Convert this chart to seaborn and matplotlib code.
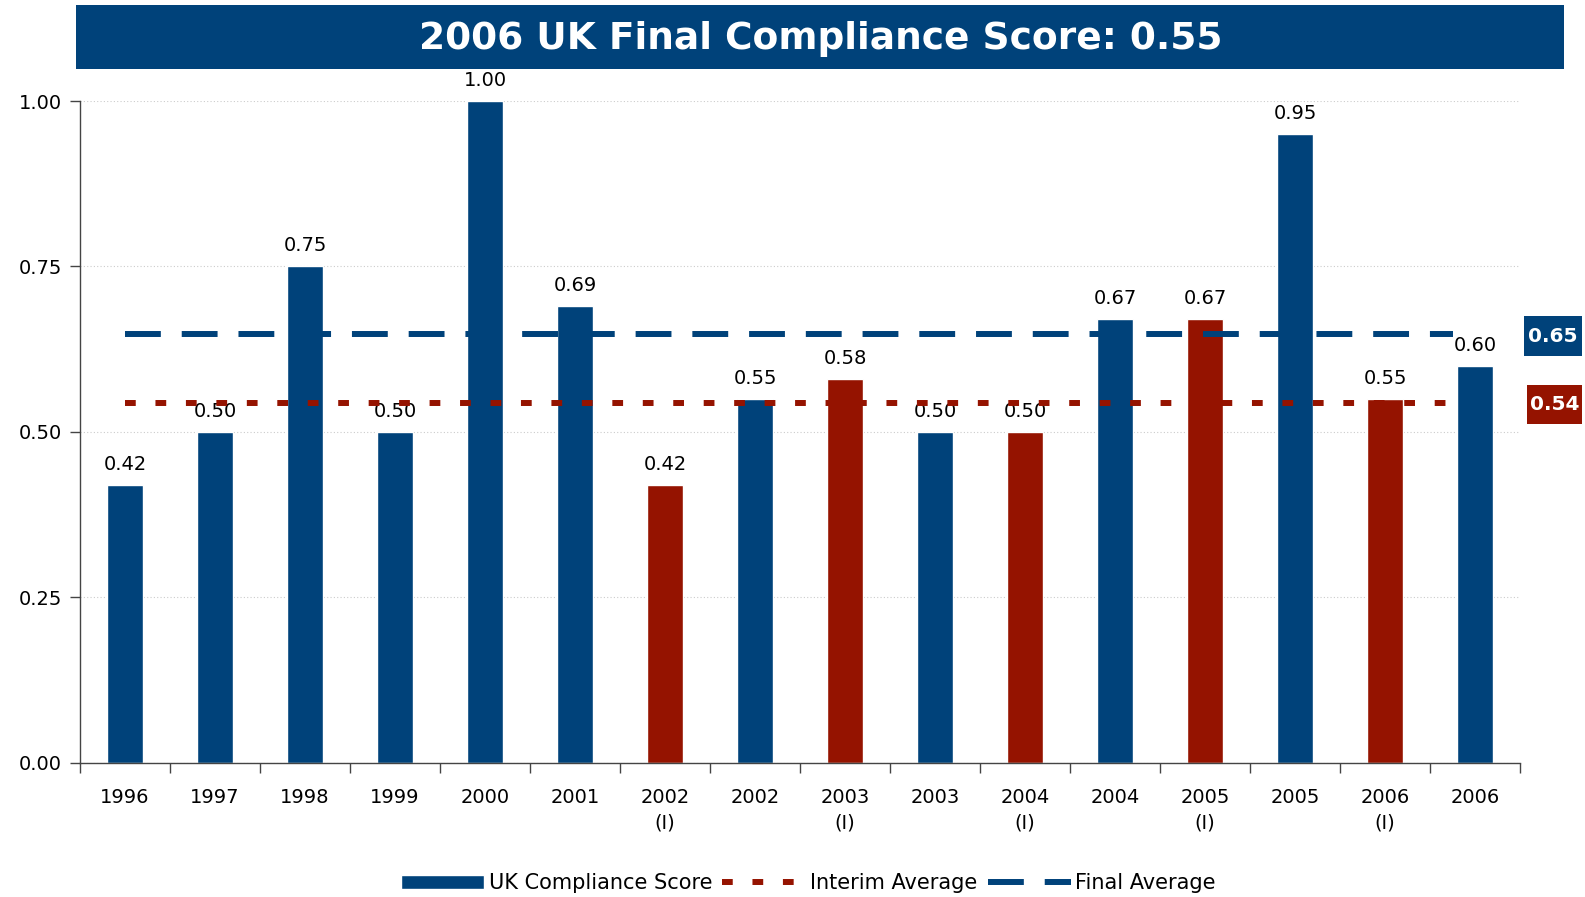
import matplotlib
matplotlib.use("Agg")
import matplotlib.pyplot as plt
import seaborn as sns
import pandas as pd
from matplotlib.patches import Patch, Rectangle
from matplotlib.lines import Line2D
from matplotlib.ticker import FixedLocator

# Data
labels = ["1996", "1997", "1998", "1999", "2000", "2001", "2002\n(I)", "2002",
          "2003\n(I)", "2003", "2004\n(I)", "2004", "2005\n(I)", "2005", "2006\n(I)", "2006"]
scores = [0.42, 0.50, 0.75, 0.50, 1.00, 0.69, 0.42, 0.55,
          0.58, 0.50, 0.50, 0.67, 0.67, 0.95, 0.55, 0.60]
kinds = ["Final", "Final", "Final", "Final", "Final", "Final", "Interim", "Final",
         "Interim", "Final", "Interim", "Final", "Interim", "Final", "Interim", "Final"]
final_avg = 0.648
interim_avg = 0.544
title = "2006 UK Final Compliance Score: 0.55"

blue = "#00427A"
red = "#951300"

df = pd.DataFrame({"label": labels, "score": scores, "kind": kinds})

sns.set_style("white", {"xtick.bottom": True, "ytick.left": True,
                        "text.color": "black", "xtick.color": "black", "ytick.color": "black"})
plt.rcParams['font.family'] = ['DejaVu Sans']

fig = plt.figure(figsize=(15.85, 8.97), dpi=100)
ax = fig.add_axes([0.0505, 0.1494, 0.9085, 0.738])

sns.barplot(data=df, x="label", y="score", hue="kind", palette={"Final": blue, "Interim": red},
            dodge=False, width=0.41, ax=ax, legend=False, saturation=1)

for cont in ax.containers:
    ax.bar_label(cont, fmt="%.2f", padding=8, fontsize=14, color="black")

# average lines
n = len(labels)
ax.plot([0, n - 1.25], [final_avg, final_avg], color=blue, lw=4.3,
        dashes=(6, 3.5), zorder=5)
ax.plot([0, n - 1.25], [interim_avg, interim_avg], color=red, lw=4.3,
        dashes=(1.8, 3.3), zorder=5)

# value boxes on the right of the plot
trans = ax.get_yaxis_transform()
for avg, col, x0 in [(final_avg, blue, 1.0025), (interim_avg, red, 1.0047)]:
    w = 0.0405 - (x0 - 1.0025)
    yc = avg - 0.003
    ax.add_patch(Rectangle((x0, yc - 0.0295), w, 0.059, transform=trans,
                           facecolor=col, edgecolor="none", clip_on=False))
    ax.text(x0 + w / 2, yc, f"{avg:.2f}", transform=trans, ha="center", va="center",
            color="white", fontsize=14.5, fontweight="bold", clip_on=False)

ax.set_xlim(-0.5, n - 0.5)
ax.set_ylim(0, 1.0)
ax.set_yticks([0, 0.25, 0.5, 0.75, 1.0])
ax.set_yticklabels([f"{v:.2f}" for v in [0, 0.25, 0.5, 0.75, 1.0]], fontsize=14)
ax.set_xticklabels(labels, fontsize=14, linespacing=1.45)
ax.xaxis.set_minor_locator(FixedLocator([i - 0.5 for i in range(n + 1)]))
ax.tick_params(axis="x", which="major", length=0, pad=18)
ax.tick_params(axis="x", which="minor", bottom=True, length=7, width=1, color="#444444", direction="out")
ax.tick_params(axis="y", length=7, width=1, color="#444444", direction="out", left=True, pad=6)
ax.set_xlabel("")
ax.set_ylabel("")
ax.yaxis.grid(True, linestyle=(0, (1, 2)), color="#cccccc", lw=0.8)
ax.set_axisbelow(True)
for s in ["top", "right"]:
    ax.spines[s].set_visible(False)
for s in ["left", "bottom"]:
    ax.spines[s].set_color("#444444")
    ax.spines[s].set_linewidth(1)

# title banner
fig.patches.append(Rectangle((0.048, 0.923), 0.939, 0.0715, transform=fig.transFigure,
                             facecolor=blue, edgecolor="none", zorder=0))
fig.text(0.518, 0.957, title, ha="center", va="center", color="white",
         fontsize=27, fontweight="bold")

handles = [Patch(facecolor=blue, label="UK Compliance Score"),
           Line2D([], [], color=red, lw=4.3, dashes=(1.8, 3.3), label="Interim Average"),
           Line2D([], [], color=blue, lw=4.3, dashes=(6, 3.5), label="Final Average")]
fig.legend(handles=handles, loc="lower center", bbox_to_anchor=(0.51, -0.017), ncol=3,
           frameon=False, fontsize=15, handlelength=4, handletextpad=0.2, columnspacing=0.5)

fig.savefig("out.png", dpi=100)
